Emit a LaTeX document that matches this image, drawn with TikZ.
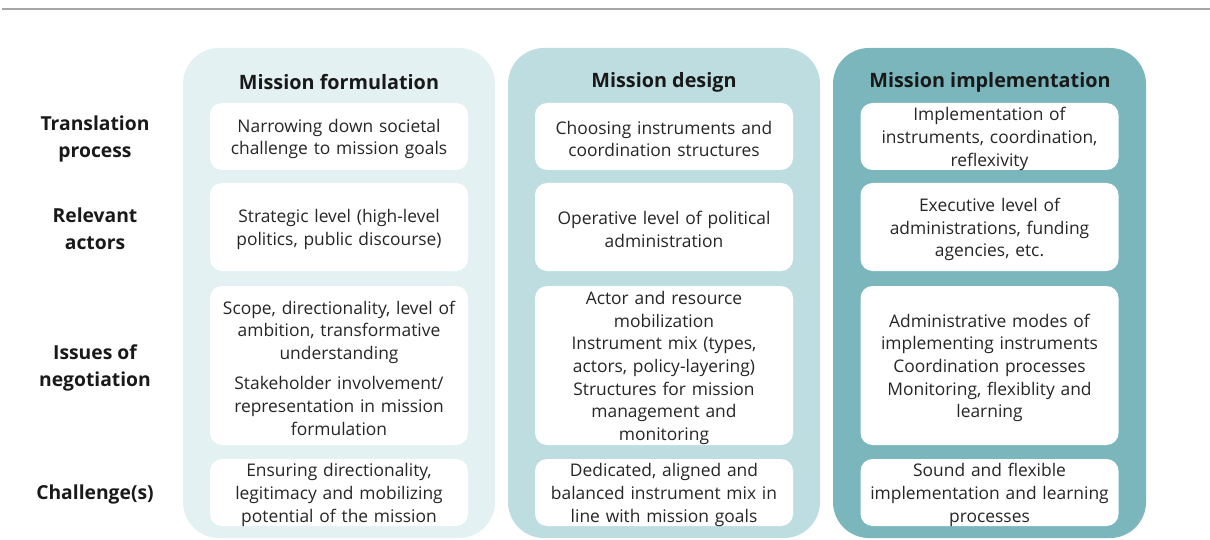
\documentclass[tikz,border=0pt]{standalone}
\usepackage{fontspec}
\setmainfont{Open Sans}
\definecolor{cola}{HTML}{E3F1F2}
\definecolor{colb}{HTML}{BEDDE0}
\definecolor{colc}{HTML}{7AB6BC}
\definecolor{txt}{HTML}{262626}
\definecolor{hrule}{HTML}{A6A6A6}
\tikzset{
  colbox/.style={rounded corners=36pt},
  cellbox/.style={fill=white, rounded corners=12pt, minimum width=258pt, inner sep=0pt},
  celltext/.style={text width=256pt, align=center, inner sep=0pt, text=txt, font=\fontsize{17.4}{22.6}\selectfont},
  head/.style={font=\bfseries\fontsize{19.8}{24}\selectfont, text=black!90, inner sep=0pt},
  rowlab/.style={font=\bfseries\fontsize{19.3}{27}\selectfont, text=black!90, align=center, inner sep=0pt}
}
\newcommand\mycell[5]{%
  \node[cellbox, minimum height=#4pt] (#1) at (#2,#3) {};
  \node[celltext] (#1t) at ([yshift=-2.5pt]#1.center) {#5};}
\begin{document}
\begin{tikzpicture}[x=1pt,y=-1pt]
\useasboundingbox (0,0) rectangle (1210,540);
\coordinate (rl) at (2,9);
\coordinate (rr) at (1210,9);
\draw[hrule, line width=2.5pt] (rl) -- (rr);
% columns
\fill[cola, colbox] (183,48) rectangle (495,538);
\fill[colb, colbox] (508,48) rectangle (820,538);
\fill[colc, colbox] (833,48) rectangle (1146,538);
% headers
\node[head] (hf) at (339,82) {Mission formulation};
\node[head] (hd) at (664,82) {Mission design};
\node[head] (hi) at (990,82) {Mission implementation};
% row labels
\node[rowlab] (lt) at (95,138.5) {Translation\\process};
\node[rowlab] (la) at (95,229) {Relevant\\actors};
\node[rowlab] (ln) at (95,367.5) {Issues of\\negotiation};
\node[rowlab] (lc) at (95,494.5) {Challenge(s)};
% column 1
\mycell{f1}{339}{136.5}{67}{Narrowing down societal\\challenge to mission goals}
\mycell{f2}{339}{227}{88}{Strategic level (high-level\\politics, public discourse)}
\mycell{f3}{339}{365.5}{159}{Scope, directionality, level of\\ambition, transformative\\understanding\\[8pt]Stakeholder involvement/\\representation in mission\\formulation}
\mycell{f4}{339}{492.5}{67}{Ensuring directionality,\\legitimacy and mobilizing\\potential of the mission}
% column 2
\mycell{d1}{664}{136.5}{67}{Choosing instruments and\\coordination structures}
\mycell{d2}{664}{227}{88}{Operative level of political\\administration}
\mycell{d3}{664}{365.5}{159}{Actor and resource\\mobilization\\Instrument mix (types,\\actors, policy-layering)\\Structures for mission\\management and\\monitoring}
\mycell{d4}{664}{492.5}{67}{Dedicated, aligned and\\balanced instrument mix in\\line with mission goals}
% column 3
\mycell{i1}{989.5}{136.5}{67}{Implementation of\\instruments, coordination,\\reflexivity}
\mycell{i2}{989.5}{227}{88}{Executive level of\\administrations, funding\\agencies, etc.}
\mycell{i3}{989.5}{365.5}{159}{Administrative modes of\\implementing instruments\\Coordination processes\\Monitoring, flexiblity and\\learning}
\mycell{i4}{989.5}{492.5}{67}{Sound and flexible\\implementation and learning\\processes}
\end{tikzpicture}
\end{document}
